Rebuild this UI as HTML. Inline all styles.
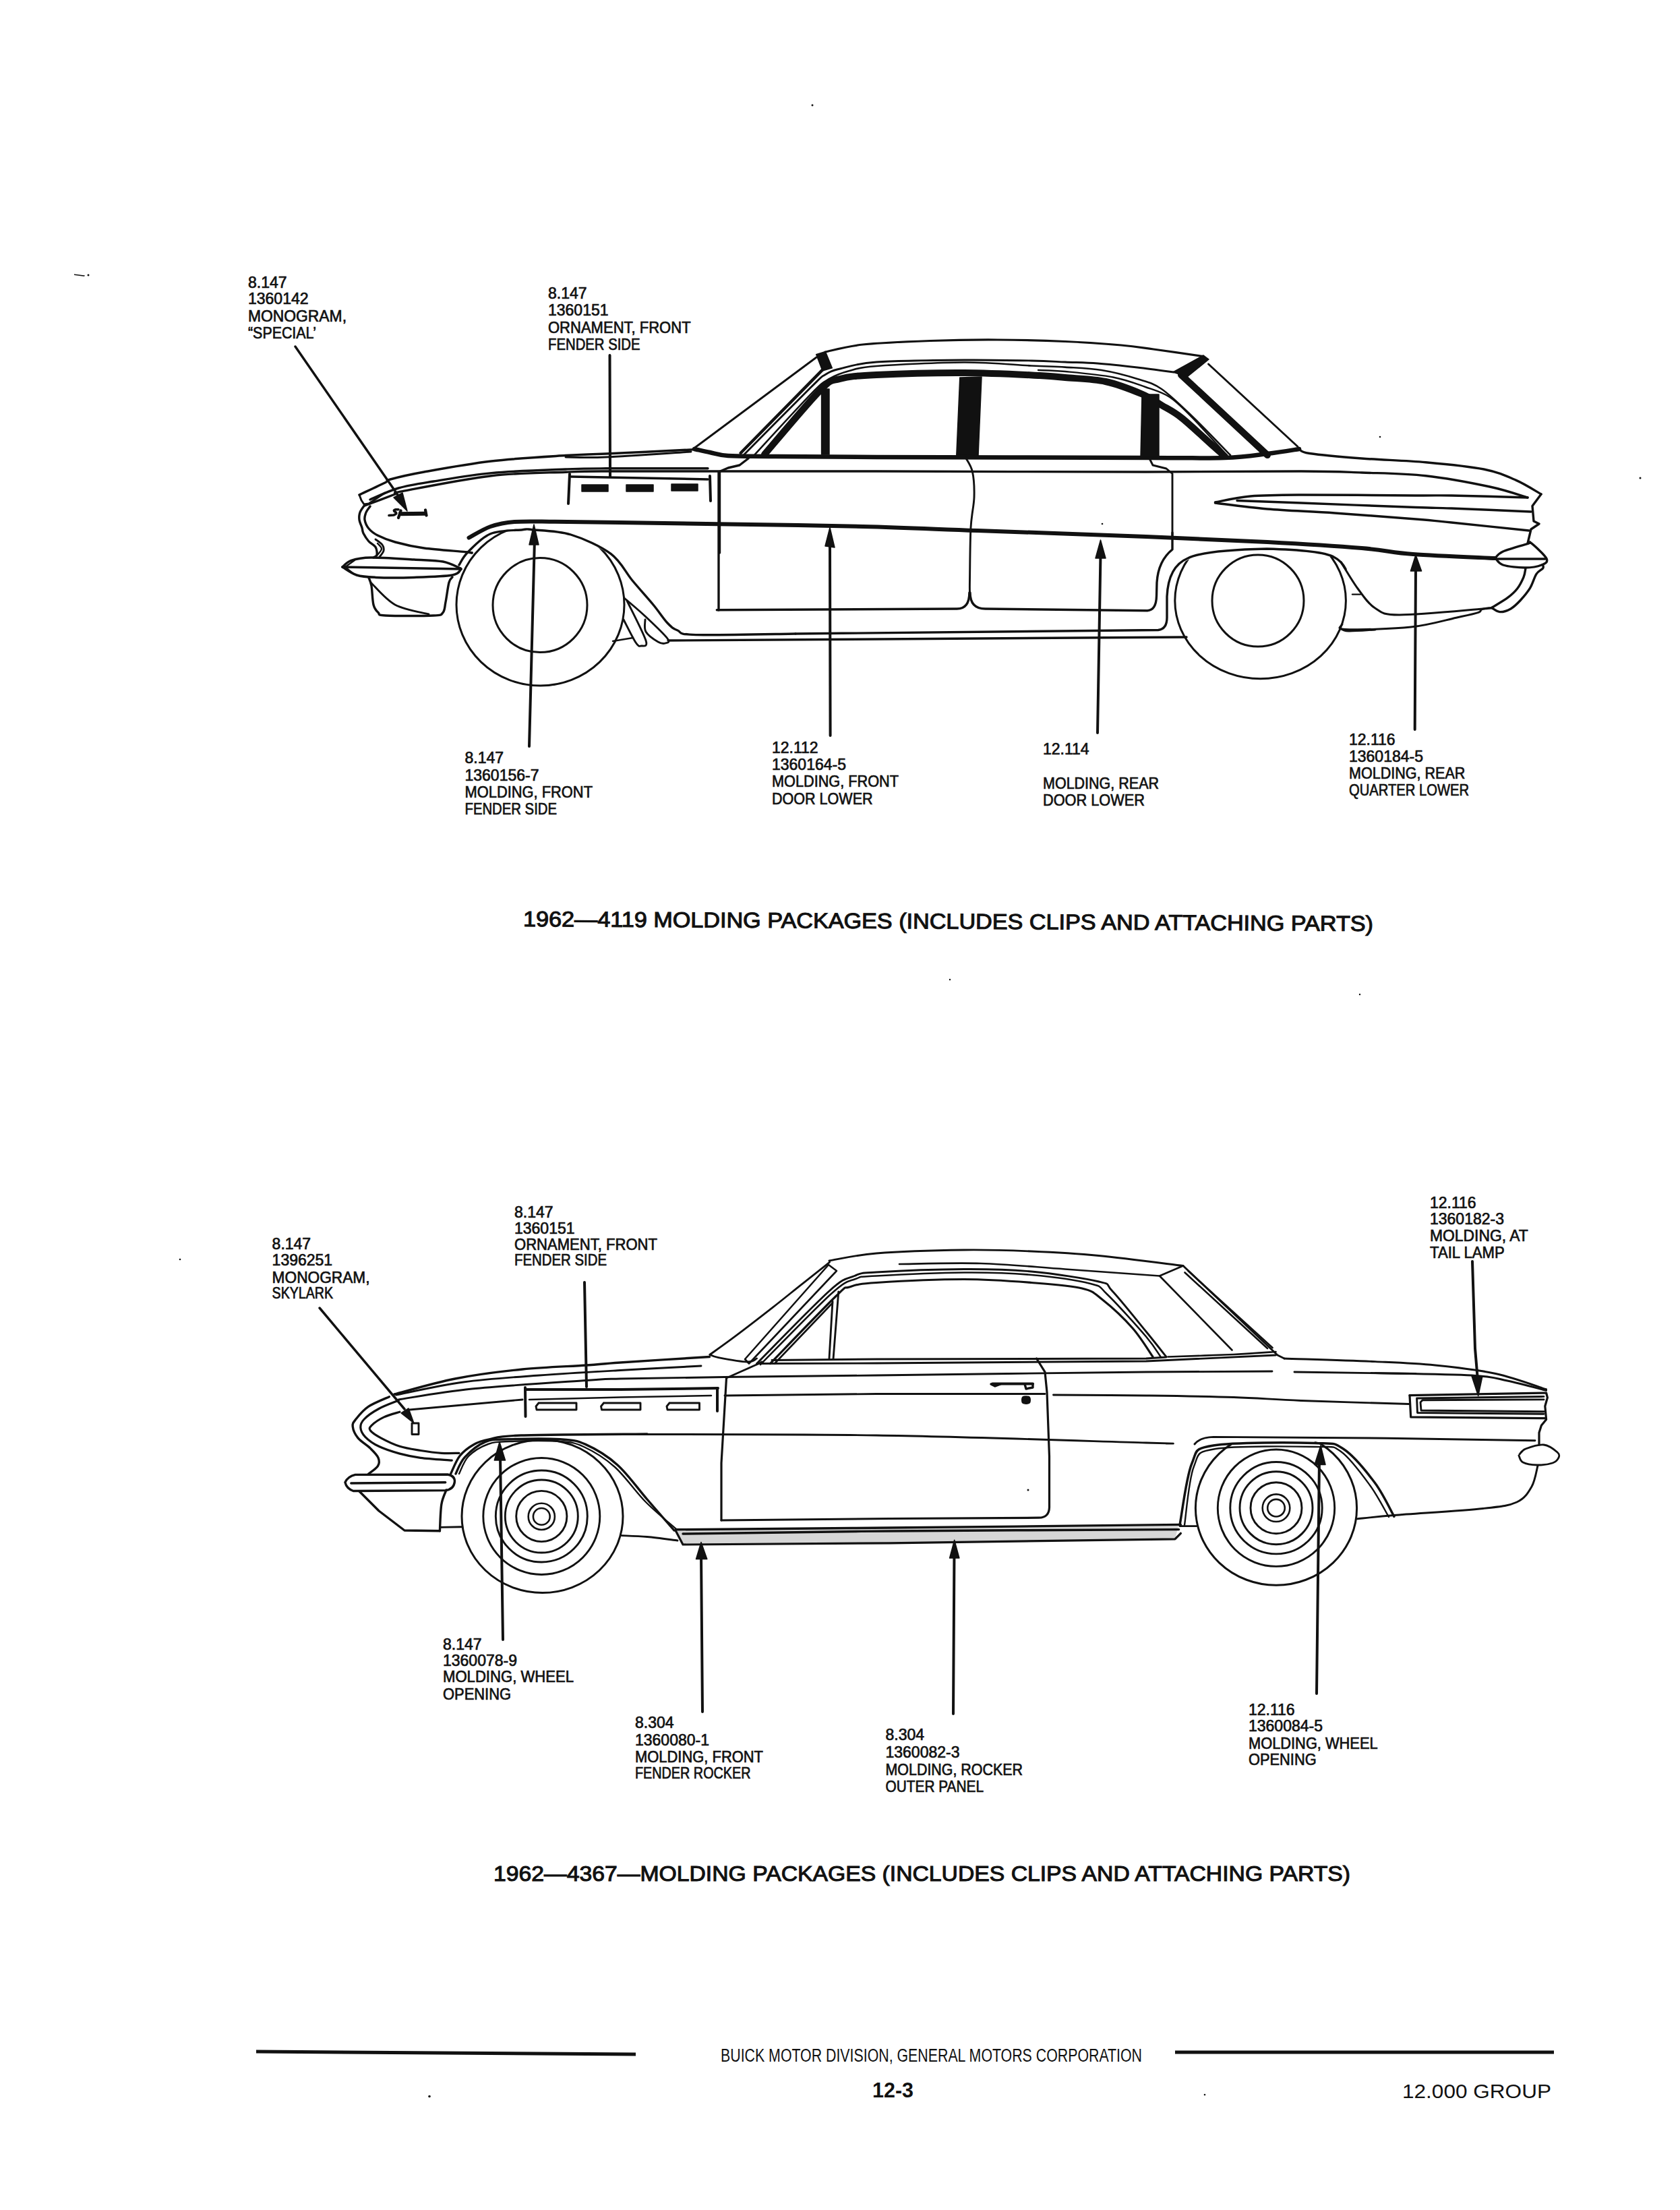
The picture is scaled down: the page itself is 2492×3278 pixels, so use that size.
<!DOCTYPE html>
<html><head><meta charset="utf-8"><title>1962 Molding Packages</title>
<style>
html,body{margin:0;padding:0;background:#fff;}
body{width:2492px;height:3278px;overflow:hidden;}
svg{display:block;}
.lbl text{font-family:"Liberation Sans",sans-serif;font-weight:normal;font-size:23px;fill:#111;stroke:#111;stroke-width:0.7px;}
.cap text{font-family:"Liberation Sans",sans-serif;font-weight:normal;font-size:32px;fill:#111;stroke:#111;stroke-width:1.1px;}
.ln path{fill:none;stroke:#111;stroke-linecap:round;stroke-linejoin:round;}
.fl path{fill:#111;stroke:#111;stroke-width:1.5;stroke-linejoin:round;}
.tire{fill:none;stroke:#111;}
</style></head><body>
<svg width="2492" height="3278" viewBox="0 0 2492 3278">
<rect width="2492" height="3278" fill="#fff"/>

<g class="lbl">
<text x="368" y="427">8.147</text>
<text x="368" y="451">1360142</text>
<text x="368" y="477" textLength="146" lengthAdjust="spacingAndGlyphs">MONOGRAM,</text>
<text x="368" y="502" textLength="101" lengthAdjust="spacingAndGlyphs">“SPECIAL’</text>
<text x="813" y="442.5">8.147</text>
<text x="813" y="468">1360151</text>
<text x="813" y="494" textLength="211.6" lengthAdjust="spacingAndGlyphs">ORNAMENT, FRONT</text>
<text x="813" y="518.6" textLength="136.6" lengthAdjust="spacingAndGlyphs">FENDER SIDE</text>
<text x="689.5" y="1132">8.147</text>
<text x="689.5" y="1158">1360156-7</text>
<text x="689.5" y="1183" textLength="189.5" lengthAdjust="spacingAndGlyphs">MOLDING, FRONT</text>
<text x="689.5" y="1208" textLength="136.5" lengthAdjust="spacingAndGlyphs">FENDER SIDE</text>
<text x="1145" y="1117">12.112</text>
<text x="1145" y="1142">1360164-5</text>
<text x="1145" y="1167" textLength="188" lengthAdjust="spacingAndGlyphs">MOLDING, FRONT</text>
<text x="1145" y="1193" textLength="149.6" lengthAdjust="spacingAndGlyphs">DOOR LOWER</text>
<text x="1547" y="1118.6">12.114</text>
<text x="1547" y="1169.6" textLength="172" lengthAdjust="spacingAndGlyphs">MOLDING, REAR</text>
<text x="1547" y="1195" textLength="151" lengthAdjust="spacingAndGlyphs">DOOR LOWER</text>
<text x="2001" y="1105">12.116</text>
<text x="2001" y="1130">1360184-5</text>
<text x="2001" y="1154.6" textLength="172.3" lengthAdjust="spacingAndGlyphs">MOLDING, REAR</text>
<text x="2001" y="1179.6" textLength="178" lengthAdjust="spacingAndGlyphs">QUARTER LOWER</text>
<text x="403.6" y="1853">8.147</text>
<text x="403.6" y="1877">1396251</text>
<text x="403.6" y="1903" textLength="145" lengthAdjust="spacingAndGlyphs">MONOGRAM,</text>
<text x="403.6" y="1926" textLength="90.4" lengthAdjust="spacingAndGlyphs">SKYLARK</text>
<text x="763" y="1805.6">8.147</text>
<text x="763" y="1829.6">1360151</text>
<text x="763" y="1854" textLength="212" lengthAdjust="spacingAndGlyphs">ORNAMENT, FRONT</text>
<text x="763" y="1877" textLength="137" lengthAdjust="spacingAndGlyphs">FENDER SIDE</text>
<text x="2121" y="1792">12.116</text>
<text x="2121" y="1815.7">1360182-3</text>
<text x="2121" y="1841" textLength="145.7" lengthAdjust="spacingAndGlyphs">MOLDING, AT</text>
<text x="2121" y="1866" textLength="110.7" lengthAdjust="spacingAndGlyphs">TAIL LAMP</text>
<text x="657" y="2447">8.147</text>
<text x="657" y="2471">1360078-9</text>
<text x="657" y="2495" textLength="194" lengthAdjust="spacingAndGlyphs">MOLDING, WHEEL</text>
<text x="657" y="2521" textLength="101" lengthAdjust="spacingAndGlyphs">OPENING</text>
<text x="942" y="2563">8.304</text>
<text x="942" y="2588.5">1360080-1</text>
<text x="942" y="2613.6" textLength="190" lengthAdjust="spacingAndGlyphs">MOLDING, FRONT</text>
<text x="942" y="2637.6" textLength="171.5" lengthAdjust="spacingAndGlyphs">FENDER ROCKER</text>
<text x="1313.5" y="2581">8.304</text>
<text x="1313.5" y="2607">1360082-3</text>
<text x="1313.5" y="2633" textLength="203.5" lengthAdjust="spacingAndGlyphs">MOLDING, ROCKER</text>
<text x="1313.5" y="2658" textLength="145.5" lengthAdjust="spacingAndGlyphs">OUTER PANEL</text>
<text x="1852" y="2544">12.116</text>
<text x="1852" y="2568">1360084-5</text>
<text x="1852" y="2594" textLength="191.6" lengthAdjust="spacingAndGlyphs">MOLDING, WHEEL</text>
<text x="1852" y="2618" textLength="100.6" lengthAdjust="spacingAndGlyphs">OPENING</text>
</g>
<g class="cap">
<text x="776" y="1374" transform="rotate(0.32 776 1374)" textLength="1261" lengthAdjust="spacingAndGlyphs">1962—4119 MOLDING PACKAGES (INCLUDES CLIPS AND ATTACHING PARTS)</text>
<text x="732" y="2790" textLength="1271" lengthAdjust="spacingAndGlyphs">1962—4367—MOLDING PACKAGES (INCLUDES CLIPS AND ATTACHING PARTS)</text>
</g>
<path d="M380 3043 L943 3047" stroke="#111" stroke-width="5" fill="none"/>
<path d="M1743 3044 L2305 3044" stroke="#111" stroke-width="5" fill="none"/>
<text x="1069" y="3058" font-family="Liberation Sans" font-size="27" fill="#111" textLength="625" lengthAdjust="spacingAndGlyphs">BUICK MOTOR DIVISION, GENERAL MOTORS CORPORATION</text>
<text x="1294" y="3110.5" font-family="Liberation Sans" font-weight="bold" font-size="32" fill="#111" textLength="61" lengthAdjust="spacingAndGlyphs">12-3</text>
<text x="2080" y="3111.5" font-family="Liberation Sans" font-size="30" fill="#111" textLength="221" lengthAdjust="spacingAndGlyphs">12.000 GROUP</text>
<g class="tire" stroke-width="3">
<ellipse cx="801.5" cy="897" rx="124.5" ry="120"/>
<circle cx="801" cy="897.6" r="70"/>
<ellipse cx="1869.6" cy="891" rx="126.8" ry="115.7"/>
<circle cx="1866" cy="891" r="68"/>
</g>
<path fill="#fff" d="M681 838 L690 821 L707 804 L740 786 L788 785 L854 794 L900 819 L938 861 L969 897 L969 760 L681 760Z"/>
<path fill="#fff" d="M1750 837 L1786 817.5 L1879 814 L1979 826.4 L1996 844 L1996 760 L1750 760Z"/>
<g class="ln">
<path d="M533 734 C539.3 731 563.3 719.8 571 716 C578.7 712.2 569.3 713.7 579 711 C588.7 708.3 604 704.5 629 700 C654 695.5 694 688.1 729 684 C764 679.9 810.7 677.4 839 675.6 C867.3 673.8 868 674.4 899 673 C930 671.6 1003.2 668.2 1025 667 C1046.8 665.8 1029.2 666.2 1030 666" stroke-width="3.5"/>
<path d="M839 678 C849 678 868 679.3 899 678 C930 676.7 1004 671.3 1025 670" stroke-width="2.9"/>
<path d="M549 741 C556 738.2 575.3 728.5 591 724 C606.7 719.5 620 717.7 643 714 C666 710.3 696.3 704.6 729 701.6 C761.7 698.6 810.7 697.1 839 696 C867.3 694.9 863.8 695 899 694.8 C934.2 694.6 1024.8 694.8 1050 694.8" stroke-width="3.4"/>
<path d="M541 750 C548.5 747.2 576.7 736.6 586 733 C595.3 729.4 573.2 733.1 597 728.6 C620.8 724.1 688.7 710.4 729 705.7 C769.3 701 810.7 701.3 839 700.2 C867.3 699.1 860.3 699.2 899 699 C937.7 698.8 1004.2 699 1071 699 C1137.8 699 1195.2 698.8 1300 699 C1404.8 699.2 1595 700 1700 700 C1805 700 1876.7 698.8 1930 699 C1983.3 699.2 1989.2 699.9 2020 701 C2050.8 702.1 2083.3 702.2 2115 705.7 C2146.7 709.2 2184.8 716.6 2210 722 C2235.2 727.4 2256.7 735.3 2266 738" stroke-width="3.4"/>
<path d="M533 734 L536 742 L540 748 L547 747 L571 731" stroke-width="2.9"/>
<path d="M541 749 C539.8 750.8 535.3 756.3 534 760 C532.7 763.7 532.5 767.2 533 771 C533.5 774.8 536 779.7 537 783 C538 786.3 537.3 787.7 539 791 C540.7 794.3 544 799.6 547 803 C550 806.4 555 808.1 557 811.4 C559 814.7 559.5 820.4 559 823 C558.5 825.6 554.8 826.3 554 827" stroke-width="3.4"/>
<path d="M549 751 C548 752.5 544.3 756.7 543 760 C541.7 763.3 540.3 767 541 771 C541.7 775 543.8 780.2 547 784 C550.2 787.8 553.5 790.7 560 794 C566.5 797.3 574.5 800.8 586 804 C597.5 807.2 611.7 810.6 629 813 C646.3 815.4 678.2 817.4 690 818.6 C701.8 819.8 698.3 819.8 700 820" stroke-width="3.4"/>
<path d="M557 800 C558.7 801.3 565 805.2 567 808 C569 810.8 569.7 814 569 817 C568.3 820 564 824.5 563 826" stroke-width="2.9"/>
<path d="M560 806 C561 807.3 566 811.2 566 814 C566 816.8 561 821.5 560 823" stroke-width="2.4"/>
<path d="M508 841 C510.2 839.4 514 833.7 521 831.4 C528 829.1 534.5 827.2 550 827 C565.5 826.8 596.2 829 614 830 C631.8 831 645.5 830.8 657 833 C668.5 835.2 678.7 841.3 683 843" stroke-width="3.5"/>
<path d="M508 841 C511.5 843 520.8 850.4 529 853 C537.2 855.6 542.8 855.8 557 856.4 C571.2 857 595 857 614 856.4 C633 855.8 659.3 855.1 671 853 C682.7 850.9 681.8 845.5 684 844" stroke-width="3.5"/>
<path d="M508 841 L684 844" stroke-width="3.4"/>
<path d="M512 841 L526 831" stroke-width="2.4"/>
<path d="M512 841 L523 850" stroke-width="2.4"/>
<path d="M547 857 C547.7 859 549.8 862.3 551 869 C552.2 875.7 552.3 890.4 554 897 C555.7 903.6 558 905.9 561 908.6 C564 911.3 558.3 912.3 572 913 C585.7 913.7 628.8 913.7 643 913 C657.2 912.3 654 911.9 657 908.6 C660 905.3 659.5 900.4 661 893 C662.5 885.6 664.3 870.2 666 864 C667.7 857.8 670.2 857.3 671 856" stroke-width="3.4"/>
<path d="M550 864 C556 869.5 571.7 889.2 586 897 C600.3 904.8 627.7 908.7 636 911" stroke-width="2.9"/>
<path d="M577 764.5 L584 764 Q590 762 586.5 759.5 Q582 757 587 755.8 L591 755.8" stroke-width="3.6"/>
<path d="M631 756.5 L632.5 764.5" stroke-width="4.2"/>
<path d="M594.5 757.5 L591 768" stroke-width="4.2"/>
<path d="M438 514 L592 737" stroke-width="3.5"/>
<path d="M904.5 527 L905 707" stroke-width="4"/>
<path d="M847 707 L1050 711" stroke-width="3.5"/>
<path d="M845 703 L843 747" stroke-width="4"/>
<path d="M1053 706 L1054 743" stroke-width="4"/>
<path d="M695.5 797.6 C700.9 794.8 716.4 784.9 727.6 781 C738.9 777.1 747.1 775.2 763 774 C778.9 772.8 797.2 773.6 823 773.8 C848.8 774 875.2 774.4 918 775 C960.8 775.6 1019.7 776.4 1080 777.4 C1140.3 778.4 1218.3 779.4 1280 781 C1341.7 782.6 1380 784.5 1450 787 C1520 789.5 1628.3 793.2 1700 796 C1771.7 798.8 1826.7 801.2 1880 804 C1933.3 806.8 1984 810 2020 813 C2056 816 2063 819.5 2096 822 C2129 824.5 2197.7 827 2218 828" stroke-width="6"/>
<path d="M681 838 C683.2 834.8 686.2 826.7 694 819 C701.8 811.3 714.1 797.2 727.6 791.7 C741.1 786.2 764.7 786.7 775 785.7 C785.3 784.7 777.5 784.5 789.5 785.7 C801.5 786.9 827.3 787 846.7 793 C866.1 799 890.8 810.1 906 821.4 C921.2 832.7 927.5 848.4 938 861 C948.5 873.6 960.3 886.5 969 897 C977.7 907.5 984 917.7 990 924 C996 930.3 998 932.1 1005 935 C1012 937.9 1002.8 940.8 1032 941.6 C1061.2 942.4 1155.3 940.3 1180 940" stroke-width="3.4"/>
<path d="M991 950 L1226 948.5 L1760 945" stroke-width="3.4"/>
<path d="M690 818.6 L700 820" stroke-width="3.4"/>
<path d="M926 887 C931.2 891.5 946.3 904 957 914 C967.7 924 985 940.3 990 947 C995 953.7 989.3 953.2 987 954 C984.7 954.8 980.8 954.8 976 952 C971.2 949.2 961.2 942.5 958 937 C954.8 931.5 957.2 922 957 919" stroke-width="2.9"/>
<path d="M930 891 C934.7 900.8 954.5 938.8 958 950 C961.5 961.2 953.5 957.5 951 958 C948.5 958.5 947.3 959.5 943 953 C938.7 946.5 928 924.7 925 919" stroke-width="2.9"/>
<path d="M909 951 L939 946" stroke-width="2.4"/>
<path d="M1028 666 L1211 530" stroke-width="2.9"/>
<path d="M1098.6 672 L1220 548.6" stroke-width="4.5"/>
<path d="M1101 677 C1118 659.9 1182.5 594.5 1203 574.3 C1223.5 554.1 1216.8 560.2 1224 555.7 C1231.2 551.2 1233.3 550.1 1246 547 C1258.7 543.9 1269.3 539.2 1300 537 C1330.7 534.8 1391.7 534.3 1430 534 C1468.3 533.7 1505 534.5 1530 535 C1555 535.5 1563.7 536.3 1580 537 C1596.3 537.7 1610.2 537.7 1628 539 C1645.8 540.3 1668.2 542.8 1687 545 C1705.8 547.2 1732 550.8 1741 552" stroke-width="2.9"/>
<path d="M1117 677 C1131.3 661.5 1184 603.6 1203 584.3 C1222 565 1221.5 567.1 1231 561.4 C1240.5 555.7 1248.5 553.1 1260 550 C1271.5 546.9 1271.7 545.1 1300 543 C1328.3 540.9 1391.7 537.6 1430 537.5 C1468.3 537.4 1505 541.3 1530 542.5 C1555 543.7 1562.7 543.5 1580 544.6 C1597.3 545.7 1616.2 546.1 1634 549 C1651.8 551.9 1672.2 557.3 1687 562 C1701.8 566.7 1709.2 567.5 1723 577 C1736.8 586.5 1753 602.7 1770 619 C1787 635.3 1815.8 665.7 1825 675" stroke-width="2.6"/>
<path d="M1540 549 C1546.7 549.3 1561.5 549.2 1580 551 C1598.5 552.8 1631.2 555.7 1651 559.5 C1670.8 563.3 1685 569.1 1699 574 C1713 578.9 1723.5 581.5 1735 589 C1746.5 596.5 1754.3 605.2 1768 619 C1781.7 632.8 1808.8 663.2 1817 672" stroke-width="2.4"/>
<path d="M1030 666 C1033.8 666.8 1044.7 669.3 1053 671 C1061.3 672.7 1065.5 675 1080 676 C1094.5 677 1103.3 676.7 1140 677 C1176.7 677.3 1206.7 677.7 1300 678 C1393.3 678.3 1613.8 678.8 1700 679 C1786.2 679.2 1787 680 1817 679 C1847 678 1861.7 675.2 1880 673 C1898.3 670.8 1919.2 667.2 1927 666" stroke-width="6.5"/>
<path d="M1134 674 C1147.8 658.1 1198.3 597.3 1217 578.6 C1235.7 559.9 1232.2 565.8 1246 562 C1259.8 558.2 1269.3 557.5 1300 556 C1330.7 554.5 1389.7 552.8 1430 553 C1470.3 553.2 1517 555.8 1542 557 C1567 558.2 1563.7 558.5 1580 560 C1596.3 561.5 1621 561.9 1640 566 C1659 570.1 1680.2 578.7 1694 584.5 C1707.8 590.3 1713.2 595.1 1723 601 C1732.8 606.9 1740.2 609.8 1753 620 C1765.8 630.2 1789.3 652.5 1800 662 C1810.7 671.5 1814.2 674.5 1817 677" stroke-width="10"/>
<path d="M1224 522 C1233.3 520.2 1254 513.8 1280 511 C1306 508.2 1346.7 506.7 1380 505.5 C1413.3 504.3 1446.7 503.8 1480 504 C1513.3 504.2 1549.5 505.2 1580 506.5 C1610.5 507.8 1641.2 510.1 1663 512 C1684.8 513.9 1690.7 515.2 1711 518 C1731.3 520.8 1772.7 526.8 1785 528.5" stroke-width="3.2"/>
<path d="M1792.5 540 L1925 662.5" stroke-width="2.9"/>
<path d="M1752 556 L1880 675" stroke-width="10"/>
<path d="M1927 666 C1929.6 667.1 1927 670.2 1942.5 672.5 C1958 674.8 1991.2 677.8 2020 680 C2048.8 682.2 2084.8 683 2115 685.7 C2145.2 688.4 2178.7 691.5 2201 696 C2223.3 700.5 2234.8 706.2 2249 712.4 C2263.2 718.6 2279.8 729.6 2286 733" stroke-width="3.4"/>
<path d="M1067.5 820 L1067.5 700" stroke-width="3.4"/>
<path d="M1066 905 L1066 700 L1080 694 L1097 690 L1110 680" stroke-width="3.4"/>
<path d="M1432.5 679 C1434.2 682.5 1440.4 690.2 1442.5 700 C1444.6 709.8 1445.4 723.8 1445 737.5 C1444.6 751.2 1441.1 762.1 1440 782.5 C1438.9 802.9 1438.8 843.9 1438.5 860 C1438.2 876.1 1438.5 875.8 1438.5 879" stroke-width="2.9"/>
<path d="M1063.3 904.7 L1419.5 903 Q1437.9 903 1437.9 879" stroke-width="3.4"/>
<path d="M1439 879 Q1439 903 1461.5 903 L1702 905.7 Q1715 905 1715.5 884 L1716 864 Q1718 832 1739 815 L1739 790" stroke-width="3.4"/>
<path d="M1705 680 L1710 690 L1730 695 L1739 702.5 L1739 795" stroke-width="2.9"/>
<path d="M1802.5 745 C1811.2 743.5 1833.8 737.8 1855 736 C1876.2 734.2 1889.2 734.2 1930 734 C1970.8 733.8 2062.8 734.8 2100 735 C2137.2 735.2 2125.3 734.5 2153 735 C2180.7 735.5 2247.2 737.5 2266 738" stroke-width="3.4"/>
<path d="M1835 742.5 C1850.8 743.1 1885.8 744.3 1930 746 C1974.2 747.7 2062.8 751.2 2100 752.5 C2137.2 753.8 2124.5 752.9 2153 754 C2181.5 755.1 2251.3 758.2 2271 759" stroke-width="3.4"/>
<path d="M1802.5 746 C1815.4 747.5 1850.4 752.5 1880 755 C1909.6 757.5 1943.3 758.5 1980 761 C2016.7 763.5 2071.2 767.7 2100 770 C2128.8 772.3 2125 772.2 2153 775 C2181 777.8 2248.8 785 2268 787" stroke-width="3.4"/>
<path d="M2286 733 L2273 750.5 L2275 773 L2283 777 L2271 785 L2266 806" stroke-width="3.4"/>
<path d="M2218 827.6 C2219.9 826 2221.6 821.5 2229.5 818 C2237.4 814.5 2258.7 808.8 2265.7 806.7 C2272.7 804.7 2266.7 802.1 2271.4 805.7 C2276.1 809.4 2291.4 823.2 2294 828.6 C2296.6 834 2292 835.8 2286.7 838 C2281.4 840.2 2271.5 842 2262 842 C2252.5 842 2236.8 840.4 2229.5 838 C2222.2 835.6 2219.9 829.3 2218 827.6" stroke-width="3.4"/>
<path d="M2222 829 L2292 829" stroke-width="3.4"/>
<path d="M2262.9 843.3 C2262.4 845.4 2262.1 851.2 2260 856.2 C2257.9 861.2 2254.5 868.2 2250.5 873.3 C2246.5 878.4 2242.4 882.1 2236.2 886.7 C2230 891.3 2217.1 898.6 2213.3 901" stroke-width="3.4"/>
<path d="M2288.6 838 C2288.6 838.8 2290.2 840.8 2288.6 843 C2287 845.2 2282.2 846.5 2279 851.4 C2275.8 856.3 2273.5 865.9 2269.5 872.4 C2265.5 878.9 2259.9 885.4 2255.2 890.5 C2250.4 895.6 2246.1 900 2241 902.9 C2235.9 905.8 2229.4 907.8 2224.8 907.6 C2220.2 907.4 2215.2 902.9 2213.3 901.9" stroke-width="3.4"/>
<path d="M1989 833.6 C1993.2 840.2 2005.7 861.7 2014 873 C2022.3 884.3 2028.8 894.9 2039 901.4 C2049.2 907.9 2048.2 911.7 2075 912 C2101.8 912.3 2176.9 904.8 2200 903 C2223.1 901.2 2211.1 901.3 2213.3 901" stroke-width="3"/>
<path d="M1991 926 C1991.8 927.3 1979 932.9 1996 933.6 C2013 934.3 2065.7 932.9 2093 930 C2120.3 927.1 2143.4 919.8 2160 916.2 C2176.6 912.6 2186.1 910.7 2192.4 908.6 C2198.7 906.5 2194.8 905 2198 903.8 C2201.2 902.6 2209.2 901.8 2211.4 901.4" stroke-width="3"/>
<path d="M1987 931.4 C1989.2 932.2 1991.2 935.6 2000 936 C2008.8 936.4 2033.3 934.3 2040 934" stroke-width="2.9"/>
<path d="M1180 940 L1718 934.5 Q1731 933 1731 916 L1731 884.8 Q1733 840 1762 828 Q1786 816 1879 814 Q1960 816 1979 826.4 Q1990 832 1996 844" stroke-width="3.4"/>
<path d="M2006 881.6 L2018 881.6" stroke-width="2.4"/>
<path d="M785 1107 L793 800" stroke-width="4"/>
<path d="M1231.6 1091 L1231 804" stroke-width="4"/>
<path d="M1628 1087 L1632.5 822" stroke-width="4"/>
<path d="M2098.7 1082 L2100 840" stroke-width="4"/>
</g>
<g class="fl">
<path d="M592 760 L631 759.5 L631 764 L592 764.5Z"/>
<path d="M604 758 L584 738 L597 731Z"/>
<path d="M863 719 L902 719 L902 729 L863 729Z"/>
<path d="M929 719 L969 719 L969 729 L929 729Z"/>
<path d="M996 718 L1035 718 L1035 728 L996 728Z"/>
<path d="M1210.7 525.7 L1224.3 521.4 L1234.3 545.7 L1220 550Z"/>
<path d="M1218.6 577 L1230 577 L1230 674 L1218.6 674Z"/>
<path d="M1423.8 560 L1456 559 L1451 676 L1418.8 675Z"/>
<path d="M1694 585 L1719 585 L1719 678 L1692 678Z"/>
<path d="M1740 552 L1785 527 L1793 533 L1761 559Z"/>
<path d="M792 778 L785 808 L799 808Z"/>
<path d="M1231 782.5 L1224 810 L1238 812Z"/>
<path d="M1632.5 801 L1625 828 L1640 828Z"/>
<path d="M2100 823 L2092.4 847 L2108.6 847Z"/>
</g>
<g class="tire">
<ellipse cx="804.5" cy="2249" rx="119.5" ry="113.5" stroke-width="3"/>
<circle cx="803.3" cy="2249" r="86.5" stroke-width="2.9"/>
<circle cx="803.3" cy="2249" r="68" stroke-width="2.9"/>
<circle cx="803.3" cy="2249" r="54" stroke-width="2.9"/>
<circle cx="803.3" cy="2249" r="37.6" stroke-width="2.9"/>
<circle cx="803.3" cy="2249.4" r="19.6" stroke-width="2.6"/>
<circle cx="803.3" cy="2249.4" r="12.4" stroke-width="2.6"/>
<ellipse cx="1893" cy="2237" rx="119.6" ry="114.3" stroke-width="3"/>
<circle cx="1893" cy="2236.7" r="86.7" stroke-width="2.9"/>
<circle cx="1893" cy="2236.7" r="68.2" stroke-width="2.9"/>
<circle cx="1893" cy="2236.7" r="54" stroke-width="2.9"/>
<circle cx="1893" cy="2236.7" r="38" stroke-width="2.9"/>
<circle cx="1893" cy="2236.7" r="20.3" stroke-width="2.6"/>
<circle cx="1893" cy="2236.7" r="12.8" stroke-width="2.6"/>
</g>
<path fill="#fff" d="M668 2186 L682 2159.5 L703 2142 L726 2135 L773 2129 L830 2128 L869 2135 L916 2165 L960 2215 L960 2100 L668 2100Z"/>
<path fill="#fff" d="M1750 2260 L1768 2170 L1800 2142 L1950 2138 L1993 2147 L2039 2197 L2068 2249 L2068 2100 L1750 2100Z"/>
<path fill="#d6d6d6" d="M1002 2270 L1320 2267 L1748 2263 L1743 2283 L1320 2289 L1013 2291Z"/>
<g class="ln">
<path d="M474 1940 L600 2090" stroke-width="3.5"/>
<path d="M611 2111 L621 2111 L621 2127.5 L611 2127.5 L611 2111" stroke-width="2.9"/>
<path d="M585 2068 C600 2064.2 643.3 2051.2 675 2045 C706.7 2038.8 742.5 2034.3 775 2031 C807.5 2027.7 845.8 2026.7 870 2025 C894.2 2023.3 889.6 2023.1 920 2021 C950.4 2018.9 1030.4 2013.9 1052.5 2012.5" stroke-width="3.4"/>
<path d="M587.5 2069 C604.2 2065.8 652.1 2054.8 687.5 2050 C722.9 2045.2 761.2 2042.9 800 2040 C838.8 2037.1 880 2034.8 920 2032.5 C960 2030.2 1020 2027.1 1040 2026" stroke-width="2.9"/>
<path d="M591 2076 C609.2 2073.3 653.5 2064.8 700 2060 C746.5 2055.2 833.3 2050 870 2047.5 C906.7 2045 885.8 2045.8 920 2045 C954.2 2044.2 1011.7 2043.3 1075 2042.5 C1138.3 2041.7 1195.8 2041.2 1300 2040 C1404.2 2038.8 1602.2 2036 1700 2035 C1797.8 2034 1855.8 2034.2 1887 2034" stroke-width="2.9"/>
<path d="M1920 2035 L2100 2037.5" stroke-width="2.9"/>
<path d="M607.5 2091 L775 2076" stroke-width="2.9"/>
<path d="M780 2061 L920 2061 L1065 2059" stroke-width="4"/>
<path d="M779 2058 L779.5 2101" stroke-width="4"/>
<path d="M1064 2059 L1064 2093" stroke-width="4"/>
<path d="M785 2076 L920 2072.5 L1055 2070" stroke-width="2.6"/>
<path d="M799 2081 L855 2081 L855 2091 L796 2091 L795 2086 L799 2081" stroke-width="2.9"/>
<path d="M895.5 2081 L950 2081 L950 2091 L892.5 2091 L891.5 2086 L895.5 2081" stroke-width="2.9"/>
<path d="M993 2081 L1037.5 2081 L1037.5 2091 L990 2091 L989 2086 L993 2081" stroke-width="2.9"/>
<path d="M867 1902 L870 2057" stroke-width="4"/>
<path d="M577.4 2071.7 C572.2 2074.1 554.6 2080.8 546.4 2086.4 C538.1 2092 531.8 2100.1 527.9 2105 C524 2109.9 522.7 2111.2 523.2 2115.9 C523.7 2120.6 526.6 2127.5 531 2132.9 C535.4 2138.3 544.5 2143.5 549.5 2148.4 C554.5 2153.3 559.3 2157.9 561.1 2162.3 C562.9 2166.7 562.9 2170.7 560.4 2174.7 C557.9 2178.7 548.7 2184.4 546.4 2186.3" stroke-width="3.4"/>
<path d="M591.3 2077.2 C586.4 2079.2 570.5 2084.9 562 2089.5 C553.5 2094.1 544.7 2100.3 540.2 2105 C535.7 2109.7 534.5 2113 534.8 2117.4 C535.1 2121.8 537.3 2126.7 541.8 2131.3 C546.3 2136 553.4 2141.2 561.9 2145.3 C570.4 2149.4 582.6 2153.3 592.9 2156.1 C603.2 2158.9 610.9 2160.6 623.8 2162.3 C636.7 2164 662.5 2165.5 670.3 2166.2" stroke-width="3.2"/>
<path d="M592.9 2094.2 C589 2095.5 576.7 2098.6 569.7 2101.9 C562.7 2105.2 554.5 2111 551.1 2114.3 C547.7 2117.7 547.2 2118.9 549.5 2122 C551.8 2125.1 557.8 2129 565 2132.9 C572.2 2136.8 583.1 2142.2 592.9 2145.3 C602.7 2148.4 613.5 2149.8 623.8 2151.5 C634.1 2153.2 645.3 2154.7 654.8 2155.3 C664.3 2155.9 676.6 2155.3 681 2155.3" stroke-width="3.2"/>
<path d="M527 2187.4 L664 2187 Q675 2189 674.4 2198 Q673 2209 661 2210.6 L524 2211.5 Q514 2208 511.9 2198.7 Q516 2190 527 2187.4Z" stroke-width="3.4"/>
<path d="M520.8 2200 L660.7 2198.7" stroke-width="3.4"/>
<path d="M533 2212 L562 2241 L600 2270 L652.4 2270.7" stroke-width="3.4"/>
<path d="M652.4 2270.7 C652.8 2264.1 653.2 2241.5 654.8 2231.4 C656.4 2221.3 660.8 2213.6 662 2210" stroke-width="3.4"/>
<path d="M652.4 2265.4 L685.7 2264.8" stroke-width="2.9"/>
<path d="M1052.9 2009.3 C1059.3 2004.7 1075.7 1993.2 1091.4 1981.4 C1107.1 1969.6 1130.6 1951.4 1147 1938.6 C1163.4 1925.8 1177.8 1913.9 1190 1904.3 C1202.2 1894.7 1213.2 1886.1 1220 1880.7 C1226.8 1875.3 1228.9 1873.5 1230.7 1872" stroke-width="2.8"/>
<path d="M1052.9 2009.3 C1055 2010 1056.4 2011.8 1065.7 2013.6 C1075 2015.4 1099.1 2019.8 1108.6 2020 C1118.1 2020.2 1120.2 2015.8 1122.5 2015" stroke-width="2.9"/>
<path d="M1105 2016 L1229 1876 L1241 1885 L1111 2022.5 L1105 2016" stroke-width="2.6"/>
<path d="M1230 1870 C1241.7 1868.2 1266.7 1861.7 1300 1859 C1333.3 1856.3 1391.7 1854.5 1430 1854 C1468.3 1853.5 1496.7 1854.6 1530 1856 C1563.3 1857.4 1592.5 1858.9 1630 1862.5 C1667.5 1866.1 1734.2 1875 1755 1877.5" stroke-width="2.9"/>
<path d="M1334 1875 C1354.2 1874.8 1414 1872.8 1455 1874 C1496 1875.2 1535.8 1879.4 1580 1882.5 C1624.2 1885.6 1696.7 1890.8 1720 1892.5" stroke-width="2.6"/>
<path d="M1720 1892.5 L1755 1877.5" stroke-width="2.6"/>
<path d="M1720 1892.5 L1827.5 2002.5" stroke-width="2.6"/>
<path d="M1755 1877.5 L1895 2010 L1905 2015" stroke-width="2.9"/>
<path d="M1905 2015 C1927.5 2015.8 2002.7 2017.9 2040 2019.6 C2077.3 2021.3 2099.2 2022 2129 2025 C2158.8 2028 2191.2 2031.5 2218.6 2037.5 C2246 2043.5 2281.1 2056.8 2293.6 2060.7" stroke-width="2.9"/>
<path d="M1757.5 1887.5 L1880 2000" stroke-width="2.6"/>
<path d="M1762.5 1885 L1887.5 1999" stroke-width="2.6"/>
<path d="M1732.5 2012.5 C1748.8 2011.9 1803.3 2010.2 1830 2009 C1856.7 2007.8 1882.1 2005.7 1892.5 2005" stroke-width="2.6"/>
<path d="M1122.5 2022.5 C1140.4 2004.6 1205.8 1936.7 1230 1915 C1254.2 1893.3 1255.8 1897.2 1267.5 1892.5 C1279.2 1887.8 1272.9 1888.7 1300 1887 C1327.1 1885.3 1391.7 1882.7 1430 1882.5 C1468.3 1882.3 1496.7 1882.9 1530 1886 C1563.3 1889.1 1610 1896.2 1630 1901 C1650 1905.8 1638.3 1902.7 1650 1915 C1661.7 1927.3 1686.7 1958.8 1700 1975 C1713.3 1991.2 1725 2006.2 1730 2012.5" stroke-width="2.9"/>
<path d="M1128 2024 C1145.5 2006.5 1209.5 1940.2 1233 1919 C1256.5 1897.8 1257.8 1901.4 1269 1897 C1280.2 1892.6 1273.2 1894.1 1300 1892.5 C1326.8 1890.9 1391.7 1887.8 1430 1887.5 C1468.3 1887.2 1498.8 1888.2 1530 1891 C1561.2 1893.8 1598.8 1899.2 1617.5 1904 C1636.2 1908.8 1628.8 1906.9 1642.5 1920 C1656.2 1933.1 1686.8 1967 1700 1982.5 C1713.2 1998 1718.3 2007.9 1722 2013" stroke-width="2.6"/>
<path d="M1142.5 2022.5 C1158.8 2005.8 1220.4 1941.4 1240 1922.5 C1259.6 1903.6 1250 1912.3 1260 1909 C1270 1905.7 1271.7 1904.4 1300 1902.5 C1328.3 1900.6 1391.7 1897.5 1430 1897.5 C1468.3 1897.5 1500.8 1900.2 1530 1902.5 C1559.2 1904.8 1587.5 1906.8 1605 1911 C1622.5 1915.2 1622.5 1917.7 1635 1927.5 C1647.5 1937.3 1667.5 1955.8 1680 1970 C1692.5 1984.2 1705 2005.4 1710 2012.5" stroke-width="3.2"/>
<path d="M1149 2022.5 L1235 1932.5" stroke-width="2.6"/>
<path d="M1235 1930 L1230 2015" stroke-width="2.9"/>
<path d="M1243.8 1916 L1236 2016" stroke-width="2.9"/>
<path d="M1145 2017.5 L1300 2016 L1700 2015 L1730 2013" stroke-width="2.9"/>
<path d="M1128 2022.5 L1300 2022 L1700 2019 L1892.5 2010" stroke-width="2.9"/>
<path d="M1075 2070 L1300 2067.5 L1550 2067.5" stroke-width="2.9"/>
<path d="M1562.5 2069 C1585.4 2069.2 1655.4 2069.4 1700 2070 C1744.6 2070.6 1791.7 2071.2 1830 2072.5 C1868.3 2073.8 1886.7 2075.8 1930 2077.5 C1973.3 2079.2 2063.3 2081.7 2090 2082.5" stroke-width="2.9"/>
<path d="M880 2127.5 C950 2127.8 1163.3 2126.9 1300 2129 C1436.7 2131.1 1628.3 2138 1700 2140 C1771.7 2142 1725 2140.8 1730 2141" stroke-width="2.9"/>
<path d="M1077.5 2044 C1084.6 2040.8 1111.2 2029 1120 2025 C1128.8 2021 1128.3 2020.8 1130 2020" stroke-width="2.9"/>
<path d="M1077.5 2044 L1070 2170 L1070 2255" stroke-width="3.2"/>
<path d="M1537.5 2015 L1550 2035 L1553 2065 L1556.5 2160 L1556.5 2236 Q1556 2251 1541 2251.2 L1320 2252.5 L1070 2255" stroke-width="3.2"/>
<path d="M1472 2052.5 L1532 2052.5" stroke-width="4"/>
<path d="M1470 2053 L1476 2056 L1484 2053" stroke-width="3.4"/>
<path d="M1520 2053 L1522 2060 L1532 2058 L1532 2053" stroke-width="3.4"/>
<path d="M668.6 2186 C670.8 2181.6 676.3 2166.8 682 2159.5 C687.7 2152.2 695.7 2146.5 703 2142.4 C710.3 2138.3 714 2137 725.7 2134.8 C737.4 2132.6 734 2130.3 773 2129 C812 2127.7 928.8 2127.3 960 2127" stroke-width="3.4"/>
<path d="M676 2186 C678.2 2181.9 682.2 2169.3 689.5 2161.4 C696.8 2153.5 709.2 2143 720 2138.6 C730.8 2134.2 735.6 2135.4 754 2134.8 C772.4 2134.2 811.4 2133.5 830.5 2134.8 C849.6 2136.1 854.4 2136.1 868.6 2142.4 C882.9 2148.8 900.8 2159.3 916 2172.9 C931.2 2186.5 946 2207.8 960 2224 C974 2240.2 993.3 2262.3 1000 2270" stroke-width="3.4"/>
<path d="M681 2186 C683.3 2181.7 687.8 2167.3 695 2160 C702.2 2152.7 713.8 2145.7 724 2142 C734.2 2138.3 738.3 2138.7 756 2138 C773.7 2137.3 811.7 2136.7 830 2138 C848.3 2139.3 852.3 2139.7 866 2146 C879.7 2152.3 896.7 2162.3 912 2176 C927.3 2189.7 942.9 2212.8 958 2228 C973.1 2243.2 995.1 2260.9 1002.5 2267.5" stroke-width="2.4"/>
<path d="M921.9 2277.6 C928.2 2277.9 946.1 2278.3 960 2279.5 C973.9 2280.7 997.5 2284.1 1005 2285" stroke-width="2.9"/>
<path d="M1002.5 2268.8 C1055.4 2268.3 1195.2 2267.2 1320 2266 C1444.8 2264.8 1679.5 2262.2 1751.4 2261.4" stroke-width="3.4"/>
<path d="M1013 2275 C1064.2 2274.3 1197.4 2272.1 1320 2271 C1442.6 2269.9 1677.2 2269 1748.6 2268.6" stroke-width="3.4"/>
<path d="M1002 2270 L1013 2291 L1320 2288.8 L1742.9 2282.9 L1751.4 2274.3" stroke-width="3.2"/>
<path d="M1772 2142 Q1780 2132 1800 2131.4 L2057 2133.2 L2277 2136.8" stroke-width="2.9"/>
<path d="M1750 2262 C1753 2246.8 1759.6 2190.4 1767.9 2170.7 C1776.2 2151 1769.7 2149.1 1800 2144 C1830.3 2138.9 1917.8 2139.5 1950 2140.4 C1982.2 2141.3 1978 2139.5 1992.9 2149.3 C2007.8 2159.1 2026.8 2182.6 2039.3 2199.3 C2051.8 2216 2063.1 2241 2067.9 2249.3" stroke-width="3.5"/>
<path d="M1757 2262 C1759.3 2247.5 1763.3 2193.8 1771 2175 C1778.7 2156.2 1773.2 2153.8 1803 2149 C1832.8 2144.2 1919 2145.3 1950 2146 C1981 2146.7 1975.3 2143.5 1989 2153 C2002.7 2162.5 2020.2 2186.8 2032 2203 C2043.8 2219.2 2055.3 2242.2 2060 2250" stroke-width="2.4"/>
<path d="M2012.5 2252.9 C2021.7 2252 2036.7 2250.1 2067.9 2247.5 C2099.2 2244.9 2169.7 2240.8 2200 2237.5 C2230.3 2234.2 2238 2233.4 2250 2228 C2262 2222.6 2266.8 2214 2272 2205 C2277.2 2196 2279.5 2179.2 2281 2174" stroke-width="2.9"/>
<path d="M1750 2263.6 L1775 2263.6" stroke-width="2.9"/>
<path d="M2040 2036.6 C2063.8 2037.2 2150.3 2038.1 2183 2040 C2215.7 2041.9 2217.6 2044.2 2236 2048 C2254.4 2051.8 2284 2060.1 2293.6 2062.5" stroke-width="2.9"/>
<path d="M2091 2069.6 L2293.6 2066 L2295.4 2073 L2291.8 2085.7 L2293.6 2105.4 L2286.4 2114.3 L2283 2125 L2283 2142.9" stroke-width="3.2"/>
<path d="M2091 2069.6 L2092.7 2101.8 L2291.8 2103.6" stroke-width="3.2"/>
<path d="M2290 2071.4 L2101.6 2074 L2102.5 2095.5 L2290 2097.3" stroke-width="2.9"/>
<path d="M2290 2075.9 L2110 2076.8 L2107 2080 L2108 2092 L2290 2093.8" stroke-width="2.9"/>
<path d="M2254 2157 C2255.5 2155.7 2257 2151.3 2263 2149 C2269 2146.7 2282.2 2142.2 2290 2143 C2297.8 2143.8 2306.3 2150.8 2310 2154 C2313.7 2157.2 2313.2 2159.3 2312 2162 C2310.8 2164.7 2308.3 2168.2 2303 2170 C2297.7 2171.8 2287.3 2173.2 2280 2173 C2272.7 2172.8 2263.5 2171.3 2259 2169 C2254.5 2166.7 2254 2160.7 2253 2159" stroke-width="2.9"/>
<path d="M2184 1871 L2188 2000 L2191.8 2045" stroke-width="4"/>
<path d="M746 2432 L742 2160" stroke-width="4"/>
<path d="M1042 2539 L1040 2305" stroke-width="4"/>
<path d="M1414 2542 L1415.5 2300" stroke-width="4"/>
<path d="M1953 2512 L1957 2165" stroke-width="4"/>
</g>
<g class="fl">
<path d="M614 2111 L595 2096 L606 2089Z"/>
<path d="M1517 2072 C1518.7 2070.5 1525.3 2070.5 1527 2072 C1528.7 2073.5 1528.7 2079.5 1527 2081 C1525.3 2082.5 1518.7 2082.5 1517 2081 C1515.3 2079.5 1515.3 2073.5 1517 2072Z"/>
<path d="M2192.7 2070.5 L2183 2041 L2199 2041Z"/>
<path d="M741 2138.6 L733.3 2166 L749.5 2166Z"/>
<path d="M1040 2287.5 L1032.5 2312.5 L1048.8 2312.5Z"/>
<path d="M1415.7 2284.3 L1408.6 2311 L1422.9 2311Z"/>
<path d="M1959 2144 L1950 2172.5 L1966 2172.5Z"/>
</g>
<g fill="#111"><path d="M110 406.5 L126 408.5 L125 410 L110 408Z"/><circle cx="131" cy="408" r="1.5"/><circle cx="1205" cy="156" r="1.5"/><circle cx="2433" cy="709" r="1.5"/><circle cx="2047" cy="648" r="1.3"/><circle cx="267" cy="1868" r="1.3"/><circle cx="637" cy="3109.5" r="1.8"/><circle cx="1635" cy="777" r="1.3"/><circle cx="1409" cy="1453" r="1.2"/><circle cx="2017" cy="1475" r="1.2"/><circle cx="1525" cy="2210" r="1.5"/><circle cx="1787" cy="3107" r="1.3"/></g>
</svg>
</body></html>
